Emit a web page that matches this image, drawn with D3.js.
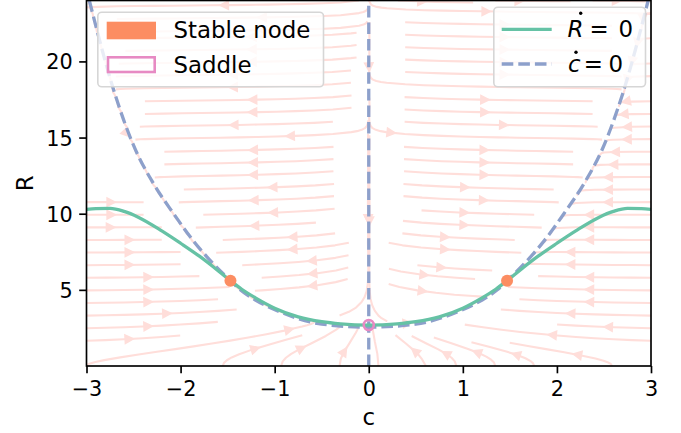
<!DOCTYPE html>
<html><head><meta charset="utf-8">
<script src="https://cdn.jsdelivr.net/npm/d3@7"></script>
<style>body{margin:0;background:#fff} text{font-family:"DejaVu Sans",sans-serif;fill:#000}</style>
</head><body><svg id="chart" width="681" height="433"></svg>
<script>
// ---------------- data ----------------
const cTicks = [-3, -2, -1, 0, 1, 2, 3];
const RTicks = [5, 10, 15, 20];
const cDomain = [-3, 3];
const RDomain = [0, 24];

// R-dot = 0 nullcline (green)
const gC = [-3, -2.9, -2.75, -2.6, -2.45, -2.2, -2.0, -1.8, -1.65, -1.47, -1.35, -1.2, -1.0, -0.75, -0.5, -0.3, 0,
             0.3, 0.5, 0.75, 1.0, 1.2, 1.35, 1.47, 1.65, 1.8, 2.0, 2.2, 2.45, 2.6, 2.75, 2.9, 3];
const gR = [10.28, 10.34, 10.35, 10.15, 9.77, 8.87, 8.06, 7.21, 6.5, 5.6, 5.04, 4.46, 3.8, 3.23, 2.91, 2.77, 2.69,
            2.77, 2.91, 3.23, 3.8, 4.46, 5.04, 5.6, 6.5, 7.21, 8.06, 8.87, 9.77, 10.15, 10.35, 10.34, 10.28];

// c-dot = 0 nullcline (blue dashed, curved branch)
const fC = [-2.97, -2.7, -2.487, -2.29, -2.074, -1.862, -1.666, -1.47, -1.366, -1.2, -0.94, -0.5, 0,
            0.5, 0.94, 1.2, 1.366, 1.47, 1.666, 1.862, 2.074, 2.29, 2.487, 2.7, 2.97];
const fR = [24.0, 17.9, 14.3, 12.0, 10.0, 8.2, 6.8, 5.6, 5.0, 4.32, 3.55, 2.75, 2.55,
            2.75, 3.55, 4.32, 5.0, 5.6, 6.8, 8.2, 10.0, 12.0, 14.3, 17.9, 24.0];
// c-dot = 0 nullcline (vertical branch c = 0)
const vC = [0, 0];
const vR = [0, 24];

// fixed points
const nodeC = [-1.47, 1.47];
const nodeR = [5.6, 5.6];
const saddleC = [0];
const saddleR = [2.69];

// relative rate of R compared with c in the field used for streamlines
const rateR = 2.5;

// ---------------- layout ----------------
const svg = d3.select("#chart");
const X0 = 86.5, X1 = 651, Y0 = 0.5, Y1 = 366;
const x = d3.scaleLinear().domain(cDomain).range([X0, X1]);
const y = d3.scaleLinear().domain(RDomain).range([Y1, Y0]);

const COL_G = "#66c2a5", COL_B = "#8da0cb", COL_N = "#fc8d62", COL_S = "#e78ac3";
const COL_STREAM = "rgb(255,222,218)";
const LW = 3.3;

svg.append("defs").append("clipPath").attr("id", "clip")
  .append("rect").attr("x", X0).attr("y", Y0).attr("width", X1 - X0).attr("height", Y1 - Y0);

const plot = svg.append("g").attr("clip-path", "url(#clip)");

// ---------------- nullcline interpolators (from read data) ----------------
const fS = d3.scaleLinear().domain(fC).range(fR);
const gS = d3.scaleLinear().domain(gC).range(gR);

// ---------------- streamplot (matplotlib algorithm) ----------------
const NXg = 101, NYg = 101;
const gxs = d3.range(NXg).map(i => cDomain[0] + (cDomain[1] - cDomain[0]) * i / (NXg - 1));
const gys = d3.range(NYg).map(j => RDomain[0] + (RDomain[1] - RDomain[0]) * j / (NYg - 1));
const W = cDomain[1] - cDomain[0], H = RDomain[1] - RDomain[0];
const UG = [], VG = [], SP = [];
for (let j = 0; j < NYg; j++) {
  UG.push([]); VG.push([]); SP.push([]);
  for (let i = 0; i < NXg; i++) {
    const c = gxs[i], R = gys[j];
    const u = c * R * (R - fS(c));
    const v = rateR * (gS(c) - R);
    UG[j].push(u * (NXg - 1) / W);
    VG[j].push(v * (NYg - 1) / H);
    SP[j].push(Math.hypot(u / W, v / H));
  }
}
function interp(a, xi, yi) {
  const Ny = a.length, Nx = a[0].length;
  const xx = Math.floor(xi), yy = Math.floor(yi);
  const xn = xx === Nx - 1 ? xx : xx + 1;
  const yn = yy === Ny - 1 ? yy : yy + 1;
  const xt = xi - xx, yt = yi - yy;
  const a0 = a[yy][xx] * (1 - xt) + a[yy][xn] * xt;
  const a1 = a[yn][xx] * (1 - xt) + a[yn][xn] * xt;
  return a0 * (1 - yt) + a1 * yt;
}
function pyRound(v) { const f = Math.floor(v), d = v - f; if (d > 0.5) return f + 1; if (d < 0.5) return f; return f % 2 === 0 ? f : f + 1; }
class OOB {} class Term {} class InvIdx {}
const MX = 30, MY = 30;
const mask = Array.from({length: MY}, () => new Array(MX).fill(0));
let trajCells = [], curXY = null;
const xg2m = (MX - 1) / (NXg - 1), yg2m = (MY - 1) / (NYg - 1);
const g2m = (xi, yi) => [pyRound(xi * xg2m), pyRound(yi * yg2m)];
const within = (xi, yi) => xi >= 0 && xi <= NXg - 1 && yi >= 0 && yi <= NYg - 1;
function maskUpdate(xm, ym) {
  if (!curXY || curXY[0] !== xm || curXY[1] !== ym) {
    if (mask[ym][xm] === 0) { trajCells.push([ym, xm]); mask[ym][xm] = 1; curXY = [xm, ym]; }
    else throw new InvIdx();
  }
}
function startTraj(xg, yg) { trajCells = []; const m = g2m(xg, yg); maskUpdate(m[0], m[1]); }
function resetStart(xg, yg) { curXY = g2m(xg, yg); }
function updateTraj(xg, yg) { if (!within(xg, yg)) throw new InvIdx(); const m = g2m(xg, yg); maskUpdate(m[0], m[1]); }
function undoTraj() { for (const [yy, xx] of trajCells) mask[yy][xx] = 0; }
function forward(xi, yi) {
  if (!within(xi, yi)) throw new OOB();
  const sp = interp(SP, xi, yi);
  if (sp === 0) throw new Term();
  return [interp(UG, xi, yi) / sp, interp(VG, xi, yi) / sp];
}
function backward(xi, yi) { const r = forward(xi, yi); return [-r[0], -r[1]]; }
const maxlength = 4.0, minlength = 0.1;
function eulerStep(out, f) {
  const [xi, yi] = out[out.length - 1];
  let cx, cy;
  try { [cx, cy] = f(xi, yi); } catch (e) { return 0; }
  const dsx = cx === 0 ? Infinity : (cx < 0 ? xi / -cx : (NXg - 1 - xi) / cx);
  const dsy = cy === 0 ? Infinity : (cy < 0 ? yi / -cy : (NYg - 1 - yi) / cy);
  const ds = Math.min(dsx, dsy);
  out.push([xi + cx * ds, yi + cy * ds]);
  return ds;
}
function rk12(x0, y0, f) {
  const maxerror = 0.003, maxds = Math.min(1 / MX, 1 / MY, 0.1);
  let ds = maxds, stotal = 0, xi = x0, yi = y0;
  const out = [];
  while (true) {
    let k1, k2;
    try {
      if (within(xi, yi)) out.push([xi, yi]); else throw new OOB();
      k1 = f(xi, yi);
      k2 = f(xi + ds * k1[0], yi + ds * k1[1]);
    } catch (e) {
      if (e instanceof OOB) { if (out.length) stotal += eulerStep(out, f); break; }
      if (e instanceof Term) break;
      throw e;
    }
    const dx1 = ds * k1[0], dy1 = ds * k1[1];
    const dx2 = ds * 0.5 * (k1[0] + k2[0]), dy2 = ds * 0.5 * (k1[1] + k2[1]);
    const err = Math.hypot((dx2 - dx1) / (NXg - 1), (dy2 - dy1) / (NYg - 1));
    if (err < maxerror) {
      xi += dx2; yi += dy2;
      try { updateTraj(xi, yi); } catch (e) { if (e instanceof InvIdx) break; throw e; }
      if (stotal + ds > maxlength) break;
      stotal += ds;
    }
    ds = err === 0 ? maxds : Math.min(maxds, 0.85 * ds * Math.sqrt(maxerror / err));
  }
  return [stotal, out];
}
function integrate(x0, y0) {
  let stotal = 0, xy = [];
  try { startTraj(x0, y0); } catch (e) { return null; }
  let r = rk12(x0, y0, backward);
  stotal += r[0]; xy = r[1].slice().reverse();
  resetStart(x0, y0);
  r = rk12(x0, y0, forward);
  stotal += r[0]; xy = xy.concat(r[1].slice(1));
  if (stotal > minlength) return xy;
  undoTraj(); return null;
}
function* startingPoints(nx, ny) {
  let xfirst = 0, yfirst = 1, xlast = nx - 1, ylast = ny - 1, xx = 0, yy = 0, dir = "right";
  for (let i = 0; i < nx * ny; i++) {
    yield [xx, yy];
    if (dir === "right") { xx += 1; if (xx >= xlast) { xlast -= 1; dir = "up"; } }
    else if (dir === "up") { yy += 1; if (yy >= ylast) { ylast -= 1; dir = "left"; } }
    else if (dir === "left") { xx -= 1; if (xx <= xfirst) { xfirst += 1; dir = "down"; } }
    else { yy -= 1; if (yy <= yfirst) { yfirst += 1; dir = "right"; } }
  }
}
const trajectories = [];
for (const [xm, ym] of startingPoints(MX, MY)) {
  if (mask[ym][xm] === 0) {
    const t = integrate(xm / xg2m, ym / yg2m);
    if (t) trajectories.push(t);
  }
}
const streams = trajectories.map(t => t.map(([xi, yi]) => [cDomain[0] + xi * W / (NXg - 1), RDomain[0] + yi * H / (NYg - 1)]));

// ---------------- draw streamlines ----------------
const sl = plot.append("g");
const sline = d3.line().x(d => x(d[0])).y(d => y(d[1]));
streams.forEach(t => {
  sl.append("path").attr("d", sline(t)).attr("fill", "none").attr("stroke", COL_STREAM)
    .attr("stroke-width", 2.08).attr("stroke-linecap", "butt").attr("stroke-linejoin", "round");
  if (t.length < 2) return;
  const s = [];
  let acc = 0;
  for (let i = 1; i < t.length; i++) { acc += Math.hypot(t[i][0] - t[i - 1][0], t[i][1] - t[i - 1][1]); s.push(acc); }
  const n = d3.bisectLeft(s, acc / 2);
  if (n + 1 >= t.length) return;
  const tail = [x(t[n][0]), y(t[n][1])];
  const head = [x((t[n][0] + t[n + 1][0]) / 2), y((t[n][1] + t[n + 1][1]) / 2)];
  let dx = head[0] - tail[0], dy = head[1] - tail[1];
  const L = Math.hypot(dx, dy);
  if (L === 0) return;
  dx /= L; dy /= L;
  const hl = 8.3, hw = 4.2;
  const bx = head[0] - dx * hl, by = head[1] - dy * hl;
  const pts = [[head[0], head[1]], [bx - dy * hw, by + dx * hw], [bx + dy * hw, by - dx * hw]];
  sl.append("path").attr("d", "M" + pts.map(p => p.join(",")).join("L") + "Z")
    .attr("fill", COL_STREAM).attr("stroke", COL_STREAM).attr("stroke-width", 1.5).attr("stroke-linejoin", "miter");
});

// ---------------- c-dot nullclines ----------------
const dashes = "11.6,5";
const lineF = d3.line().x((d, i) => x(fC[i])).y((d, i) => y(fR[i])).curve(d3.curveMonotoneX);
plot.append("path").attr("d", lineF(fC)).attr("fill", "none").attr("stroke", COL_B)
  .attr("stroke-width", LW).attr("stroke-dasharray", dashes);
plot.append("path").attr("d", d3.line()([[x(vC[0]), y(vR[0])], [x(vC[1]), y(vR[1])]]))
  .attr("fill", "none").attr("stroke", COL_B).attr("stroke-width", LW).attr("stroke-dasharray", dashes);

// ---------------- R-dot nullcline ----------------
const lineG = d3.line().x((d, i) => x(gC[i])).y((d, i) => y(gR[i])).curve(d3.curveMonotoneX);
plot.append("path").attr("d", lineG(gC)).attr("fill", "none").attr("stroke", COL_G).attr("stroke-width", LW);

// ---------------- fixed points ----------------
svg.append("g").selectAll("circle").data(nodeC).join("circle")
  .attr("cx", (d) => x(d)).attr("cy", (d, i) => y(nodeR[i])).attr("r", 6).attr("fill", COL_N);
svg.append("g").selectAll("circle").data(saddleC).join("circle")
  .attr("cx", (d) => x(d)).attr("cy", (d, i) => y(saddleR[i])).attr("r", 5).attr("fill", "none")
  .attr("stroke", COL_S).attr("stroke-width", 2.6);

// ---------------- axes ----------------
const ax = svg.append("g");
ax.append("rect").attr("x", X0).attr("y", Y0).attr("width", X1 - X0).attr("height", Y1 - Y0)
  .attr("fill", "none").attr("stroke", "#000").attr("stroke-width", 1.67);
const xAxis = d3.axisBottom(x).tickValues(cTicks).tickSize(7.3).tickPadding(5)
  .tickFormat(d => (d < 0 ? "\u2212" + Math.abs(d) : String(d)));
const gx = svg.append("g").attr("transform", `translate(0,${Y1})`).call(xAxis);
gx.select(".domain").remove();
gx.selectAll("line").attr("stroke", "#000").attr("stroke-width", 1.67);
gx.selectAll("text").attr("font-size", "20.8px").attr("font-family", "DejaVu Sans").attr("dy", null).attr("y", 29.5)
  .attr("dominant-baseline", "auto");
const yAxis = d3.axisLeft(y).tickValues(RTicks).tickSize(7.3).tickPadding(6);
const gy = svg.append("g").attr("transform", `translate(${X0},0)`).call(yAxis);
gy.select(".domain").remove();
gy.selectAll("line").attr("stroke", "#000").attr("stroke-width", 1.67);
gy.selectAll("text").attr("font-size", "20.8px").attr("font-family", "DejaVu Sans").attr("dy", "0.36em").attr("x", -13.8);

svg.append("text").attr("x", x(0)).attr("y", 424.5).attr("text-anchor", "middle").attr("font-size", "22.9px").text("c");
svg.append("text").attr("transform", `translate(33.3,${(Y0 + Y1) / 2}) rotate(-90)`).attr("text-anchor", "middle")
  .attr("font-size", "22.9px").text("R");

// ---------------- legends ----------------
const lg1 = svg.append("g");
lg1.append("rect").attr("x", 97.8).attr("y", 12.2).attr("width", 225.7).attr("height", 74.6).attr("rx", 4)
  .attr("fill", "#fff").attr("fill-opacity", 0.8).attr("stroke", "#d6d6d6").attr("stroke-width", 1.6);
lg1.append("rect").attr("x", 106.7).attr("y", 21.7).attr("width", 49.3).attr("height", 17.6).attr("fill", COL_N);
lg1.append("rect").attr("x", 108).attr("y", 57.3).attr("width", 46.7).attr("height", 14.7).attr("fill", "none")
  .attr("stroke", COL_S).attr("stroke-width", 2.6);
lg1.append("text").attr("x", 173.5).attr("y", 38.3).attr("font-size", "22.9px").text("Stable node");
lg1.append("text").attr("x", 173.5).attr("y", 73.3).attr("font-size", "22.9px").text("Saddle");

const lg2 = svg.append("g");
lg2.append("rect").attr("x", 493.8).attr("y", 7.2).attr("width", 151.7).attr("height", 79.6).attr("rx", 4)
  .attr("fill", "#fff").attr("fill-opacity", 0.8).attr("stroke", "#d6d6d6").attr("stroke-width", 1.6);
lg2.append("line").attr("x1", 501.7).attr("x2", 551.7).attr("y1", 29.3).attr("y2", 29.3)
  .attr("stroke", COL_G).attr("stroke-width", LW);
lg2.append("line").attr("x1", 501.7).attr("x2", 551.7).attr("y1", 64).attr("y2", 64)
  .attr("stroke", COL_B).attr("stroke-width", LW).attr("stroke-dasharray", dashes);
lg2.append("text").attr("x", 567.5).attr("y", 36.7).attr("font-size", "22.9px").attr("font-style", "italic").text("R");
lg2.append("circle").attr("cx", 580.7).attr("cy", 13.3).attr("r", 1.7).attr("fill", "#000");
lg2.append("text").attr("x", 589.4).attr("y", 36.7).attr("font-size", "22.9px").text("=");
lg2.append("text").attr("x", 618.5).attr("y", 36.7).attr("font-size", "22.9px").text("0");
lg2.append("text").attr("x", 568).attr("y", 71.7).attr("font-size", "22.9px").attr("font-style", "italic").text("c");
lg2.append("circle").attr("cx", 576).attr("cy", 52.3).attr("r", 1.7).attr("fill", "#000");
lg2.append("text").attr("x", 583.7).attr("y", 71.7).attr("font-size", "22.9px").text("=");
lg2.append("text").attr("x", 608.5).attr("y", 71.7).attr("font-size", "22.9px").text("0");
</script></body></html>
